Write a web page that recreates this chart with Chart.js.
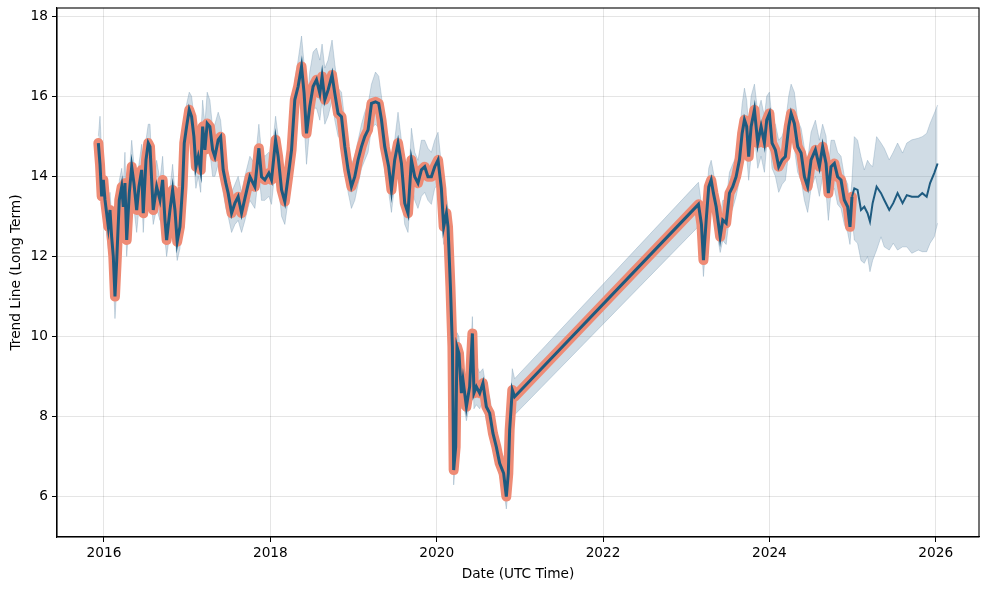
<!DOCTYPE html>
<html>
<head>
<meta charset="utf-8">
<script src="https://cdn.jsdelivr.net/npm/chart.js@4/dist/chart.umd.min.js"></script>
<style>
html,body{margin:0;padding:0;background:#fff;}
#wrap{width:989px;height:589px;}
</style>
</head>
<body>
<div id="wrap"><canvas id="c" width="989" height="589"></canvas></div>
<script>
// ---- data (decimal years) ----
const histYears = [2015.932,2015.952,2015.972,2015.992,2016.012,2016.052,2016.072,2016.092,2016.112,2016.132,
2016.153,2016.184,2016.213,2016.232,2016.252,2016.273,2016.304,2016.333,2016.360,2016.393,
2016.420,2016.453,2016.472,2016.505,2016.532,2016.553,2016.573,2016.592,2016.633,2016.673,
2016.705,2016.733,2016.753,2016.793,2016.825,2016.853,2016.880,2016.913,2016.945,2016.965,
2016.993,2017.025,2017.053,2017.081,2017.105,2017.133,2017.162,2017.186,2017.213,2017.241,
2017.273,2017.306,2017.333,2017.373,2017.402,2017.433,2017.465,2017.493,2017.534,2017.574,
2017.613,2017.654,2017.694,2017.754,2017.814,2017.862,2017.894,2017.934,2017.982,2018.014,
2018.063,2018.094,2018.135,2018.174,2018.214,2018.255,2018.294,2018.334,2018.375,2018.406,
2018.435,2018.474,2018.514,2018.555,2018.595,2018.622,2018.655,2018.694,2018.742,2018.775,
2018.814,2018.855,2018.895,2018.935,2018.975,2019.015,2019.055,2019.096,2019.135,2019.175,
2019.216,2019.264,2019.303,2019.336,2019.375,2019.423,2019.456,2019.495,2019.535,2019.576,
2019.616,2019.655,2019.696,2019.736,2019.775,2019.816,2019.856,2019.895,2019.936,2019.976,
2020.016,2020.056,2020.084,2020.117,2020.136,2020.165,2020.189,2020.204,2020.228,2020.244,
2020.268,2020.297,2020.316,2020.357,2020.396,2020.429,2020.448,2020.477,2020.517,2020.556,
2020.597,2020.637,2020.676,2020.717,2020.757,2020.805,2020.837,2020.861,2020.877,2020.909,
2020.937,2023.147,2023.183,2023.207,2023.240,2023.271,2023.300,2023.327,2023.360,2023.408,
2023.439,2023.480,2023.520,2023.559,2023.600,2023.640,2023.672,2023.700,2023.727,2023.751,
2023.780,2023.820,2023.860,2023.900,2023.940,2023.968,2024.000,2024.032,2024.072,2024.112,
2024.153,2024.192,2024.232,2024.261,2024.300,2024.340,2024.381,2024.421,2024.460,2024.501,
2024.553,2024.601,2024.640,2024.681,2024.709,2024.741,2024.781,2024.820,2024.861,2024.901,
2024.941,2024.969,2024.993];

const histValues = [14.83,14.3,13.5,13.91,13.41,12.74,13.16,12.49,12.0,11.0,
11.91,13.41,13.74,13.24,13.83,12.41,13.58,14.24,13.83,13.16,
13.74,14.16,13.08,14.41,14.83,14.74,13.91,13.16,13.74,13.41,
13.91,12.91,12.41,13.16,13.66,13.16,12.37,12.74,13.74,14.83,
15.24,15.66,15.49,14.99,14.24,14.49,14.16,15.24,14.66,15.32,
15.24,14.66,14.49,14.91,14.99,14.16,13.83,13.58,13.08,13.33,
13.49,13.08,13.45,13.99,13.74,14.70,13.99,13.91,14.08,13.91,
14.91,14.49,13.66,13.37,13.99,14.66,15.91,16.24,16.74,16.07,
15.07,15.74,16.24,16.41,16.07,16.49,15.91,16.15,16.53,16.07,
15.57,15.49,14.74,14.16,13.74,13.99,14.41,14.74,14.99,15.16,
15.82,15.86,15.82,15.41,14.74,14.24,13.66,14.41,14.83,14.32,
13.33,13.08,14.41,13.99,13.83,14.16,14.24,13.99,13.99,14.24,
14.41,13.7,12.74,13.08,12.74,11.25,9.75,6.67,7.25,9.75,
9.58,8.59,8.92,8.25,8.75,10.08,8.59,8.75,8.59,8.84,
8.25,8.09,7.59,7.25,6.84,6.59,6.01,6.59,7.67,8.67,
8.50,13.3,12.8,11.91,12.91,13.74,13.91,13.58,13.24,12.49,
12.91,12.83,13.58,13.74,13.99,14.41,15.07,15.41,15.24,14.49,
15.24,15.66,14.83,15.24,14.83,15.41,15.57,14.83,14.66,14.24,
14.41,14.49,15.24,15.57,15.32,14.74,14.58,13.99,13.74,14.41,
14.66,14.24,14.74,14.32,13.58,14.24,14.32,13.99,13.91,13.41,
13.24,12.74,13.49];

const histUpper = [15.0,15.5,14.6,14.4,13.9,13.3,13.6,13.0,12.6,11.6,
12.5,13.9,14.2,13.8,14.6,13.0,14.1,14.9,14.3,13.6,
14.3,14.8,13.7,14.9,15.3,15.3,14.4,13.7,14.4,13.9,
14.5,13.5,12.9,13.7,14.3,13.6,12.9,13.2,14.2,15.3,
15.8,16.1,16.0,15.5,14.9,15.2,14.9,15.9,15.3,16.1,
15.9,15.2,15.3,15.6,15.4,14.7,14.4,14.0,13.6,13.8,
14.0,13.6,14.0,14.5,14.3,15.3,14.6,14.5,14.6,14.5,
15.5,15.0,14.2,13.9,14.6,15.2,16.4,16.9,17.5,16.8,
15.6,16.6,17.1,17.2,16.9,17.3,16.7,16.9,17.4,16.8,
16.2,16.1,15.4,14.8,14.3,14.5,14.9,15.3,15.6,15.8,
16.3,16.6,16.5,16.0,15.3,14.9,14.2,14.9,15.6,14.9,
13.9,13.6,15.2,14.6,14.4,14.9,14.9,14.7,14.6,14.9,
15.1,14.3,13.4,13.5,13.2,11.7,10.2,7.0,7.6,10.1,
10.0,9.1,9.3,8.7,9.1,10.5,9.0,9.3,9.1,9.2,
8.7,8.5,8.0,7.7,7.2,7.0,6.3,7.0,8.1,9.2,
8.95,13.85,13.3,12.4,13.4,14.2,14.4,14.1,13.7,13.0,
13.4,13.4,14.1,14.3,14.5,15.0,15.8,16.2,15.9,15.2,
16.0,16.3,15.6,15.9,15.5,16.0,16.1,15.4,15.3,14.9,
15.0,15.3,16.0,16.3,16.1,15.4,15.2,14.7,14.4,15.1,
15.4,14.9,15.3,15.0,14.2,14.9,14.9,14.6,14.5,14.0,
13.8,13.3,13.9];

const histLower = [14.6,13.9,13.3,13.2,12.9,12.2,12.4,11.9,11.4,10.45,
11.2,12.6,13.1,12.7,13.2,12.0,12.9,13.6,13.2,12.6,
13.2,13.6,12.6,13.8,14.2,14.2,13.3,12.8,13.2,12.9,
13.3,12.4,12.0,12.6,13.1,12.5,11.9,12.2,13.3,14.4,
14.8,15.2,14.9,14.3,13.7,14.0,13.6,14.6,14.1,14.8,
14.6,14.0,14.0,14.3,14.4,13.6,13.2,13.0,12.6,12.8,
12.9,12.6,12.9,13.4,13.2,14.1,13.4,13.4,13.5,13.3,
14.3,13.9,13.0,12.8,13.4,14.1,15.3,15.6,16.2,15.3,
14.3,15.2,15.7,15.7,15.4,15.9,15.3,15.5,15.9,15.4,
15.0,14.9,14.2,13.6,13.2,13.4,13.8,14.2,14.4,14.6,
15.2,15.3,15.2,14.8,14.1,13.6,13.1,13.8,14.2,13.6,
12.8,12.6,13.8,13.4,13.2,13.5,13.6,13.4,13.3,13.7,
13.8,13.0,12.3,12.6,12.3,10.9,9.4,6.3,6.9,9.3,
9.1,8.2,8.4,7.9,8.3,9.7,8.2,8.3,8.2,8.4,
7.9,7.6,7.2,6.9,6.5,6.2,5.7,6.2,7.3,8.3,
8.05,12.75,12.3,11.5,12.4,13.2,13.4,13.0,12.7,12.1,
12.4,12.3,13.0,13.2,13.5,13.9,14.5,14.8,14.5,13.9,
14.5,15.0,14.2,14.5,14.1,14.8,15.0,14.2,14.0,13.6,
13.8,13.9,14.6,15.0,14.7,14.1,13.9,13.4,13.1,13.7,
14.0,13.5,14.0,13.6,12.9,13.6,13.7,13.3,13.2,12.8,
12.6,12.3,13.0];

const fcYears = [2024.993,2025.021,2025.060,2025.101,2025.141,2025.180,2025.209,2025.241,2025.289,2025.342,
2025.381,2025.441,2025.489,2025.541,2025.601,2025.652,2025.712,2025.790,2025.838,2025.891,
2025.932,2025.982,2026.022];
const fcValues = [13.49,13.70,13.66,13.16,13.24,13.08,12.87,13.33,13.74,13.58,
13.41,13.16,13.33,13.58,13.33,13.53,13.49,13.49,13.58,13.49,
13.83,14.08,14.32];
const fcUpper = [13.9,14.99,14.9,14.49,14.16,14.4,14.3,14.24,14.99,14.83,
14.7,14.41,14.6,14.83,14.58,14.83,14.91,14.95,14.99,15.07,
15.32,15.57,15.78];
const fcLower = [13.0,12.41,12.33,11.9,11.83,12.0,11.62,11.9,12.16,12.49,
12.24,12.16,12.33,12.16,12.24,12.24,12.08,12.16,12.12,12.12,
12.33,12.49,12.83];

const xTicks = [2016,2018,2020,2022,2024,2026];
const yTicks = [6,8,10,12,14,16,18];

// ---- build ----
const pts = (xs, ys) => xs.map((x, i) => ({x: x, y: ys[i]}));
const DARK = '#1e5b80';
const SALMON = '#ee8b75';
const BAND = 'rgba(100,140,170,0.30)';
const BAND_EDGE = 'rgba(100,140,170,0.30)';
const FBAND = 'rgba(100,140,170,0.30)';
const FONT = {family: '"DejaVu Sans", sans-serif', size: 13.7};

const framePlugin = {
  id: 'frame',
  beforeDraw(chart) {
    const ctx = chart.ctx;
    ctx.save();
    ctx.fillStyle = '#fff';
    ctx.fillRect(0, 0, chart.width, chart.height);
    ctx.restore();
  },
  afterDatasetsDraw(chart) {
    const a = chart.chartArea, ctx = chart.ctx;
    ctx.save();
    ctx.strokeStyle = '#000';
    ctx.lineWidth = 1.1;
    ctx.strokeRect(a.left, a.top, a.right - a.left, a.bottom - a.top);
    ctx.restore();
  }
};

const line = (data, extra) => Object.assign({
  data: data, pointRadius: 0, tension: 0, fill: false, spanGaps: true
}, extra);

const noPad = (s) => { s.paddingTop = 0; s.paddingBottom = 0; s.paddingLeft = 0; s.paddingRight = 0; };

new Chart(document.getElementById('c'), {
  type: 'line',
  data: {
    datasets: [
      line(pts(histYears, histValues), {borderColor: DARK, borderWidth: 3, order: 0}),
      line(pts(fcYears, fcValues), {borderColor: DARK, borderWidth: 2, order: 1}),
      line(pts(histYears, histValues), {borderColor: SALMON, borderWidth: 10, order: 2, borderJoinStyle: 'round', borderCapStyle: 'round'}),
      line(pts(histYears, histUpper), {borderColor: BAND_EDGE, borderWidth: 1, backgroundColor: BAND, fill: '+1', order: 3}),
      line(pts(histYears, histLower), {borderColor: BAND_EDGE, borderWidth: 1, order: 4}),
      line(pts(fcYears, fcUpper), {borderColor: FBAND, borderWidth: 1, backgroundColor: FBAND, fill: '+1', order: 5}),
      line(pts(fcYears, fcLower), {borderColor: FBAND, borderWidth: 1, order: 6})
    ]
  },
  options: {
    responsive: false,
    devicePixelRatio: 1,
    animation: false,
    events: [],
    layout: {padding: {left: 0, top: 8, right: 10, bottom: 0}},
    plugins: {legend: {display: false}, tooltip: {enabled: false}, title: {display: false}},
    scales: {
      x: {
        type: 'linear',
        min: 2015.435,
        max: 2026.52,
        afterBuildTicks: (s) => { s.ticks = xTicks.map(v => ({value: v})); },
        afterFit: (s) => { s.height = 52; noPad(s); },
        ticks: {color: '#000', font: FONT, padding: 3, maxRotation: 0, autoSkip: false,
                callback: (v) => String(v)},
        grid: {color: 'rgba(0,0,0,0.10)', lineWidth: 1, tickColor: '#000', tickLength: 5, drawTicks: true},
        border: {display: true, color: '#000', width: 1.1},
        title: {display: true, text: 'Date (UTC Time)', color: '#000', font: FONT, padding: {top: 0, bottom: 6}}
      },
      y: {
        type: 'linear',
        min: 5.0,
        max: 18.2,
        afterBuildTicks: (s) => { s.ticks = yTicks.map(v => ({value: v})); },
        afterFit: (s) => { s.width = 57; noPad(s); },
        ticks: {color: '#000', font: FONT, padding: 4, autoSkip: false, callback: (v) => String(v)},
        grid: {color: 'rgba(0,0,0,0.10)', lineWidth: 1, tickColor: '#000', tickLength: 5, drawTicks: true},
        border: {display: true, color: '#000', width: 1.1},
        title: {display: true, text: 'Trend Line (Long Term)', color: '#000', font: FONT, padding: {top: 8, bottom: 0}}
      }
    }
  },
  plugins: [framePlugin]
});
</script>
</body>
</html>
